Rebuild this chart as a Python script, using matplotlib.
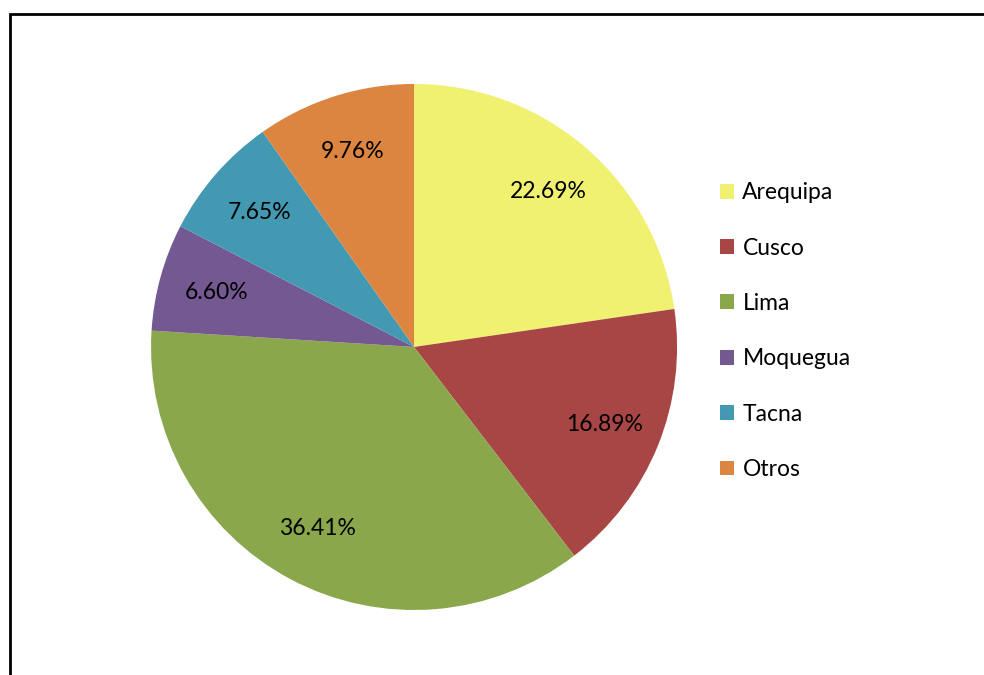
import matplotlib
matplotlib.use("Agg")
import matplotlib.pyplot as plt
from matplotlib.patches import Rectangle, Patch

# Datos de la torta
regiones = ['Arequipa', 'Cusco', 'Lima', 'Moquegua', 'Tacna', 'Otros']
porcentajes = [22.69, 16.89, 36.41, 6.60, 7.65, 9.76]
colores = ['#F0F071', '#A84545', '#8AA74C', '#745891', '#4299B1', '#DC8540']

plt.rcParams['font.family'] = ['Lato', 'DejaVu Sans']

fig = plt.figure(figsize=(9.84, 6.75), dpi=100)
fig.patch.set_facecolor('white')

# borde del grafico (cortado a la derecha y abajo)
fig.add_artist(Rectangle((10 / 984, -0.1), 1.2, 1 - 14 / 675 + 0.1,
                         transform=fig.transFigure, fill=False,
                         edgecolor='black', lw=2))

ax = fig.add_axes([0.1535, 0.0963, 0.5346, 0.7793])
wedges, texts, autotexts = ax.pie(porcentajes, colors=colores, startangle=90,
                                  counterclock=False, autopct='%.2f%%',
                                  pctdistance=0.78,
                                  textprops={'fontsize': 16.5, 'color': 'black'})
ax.set_xlim(-1, 1)
ax.set_ylim(-1, 1)
ax.set_aspect('equal')

handles = [Patch(facecolor=c, edgecolor='none') for c in colores]
fig.legend(handles, regiones, loc='upper left',
           bbox_to_anchor=(711 / 984, 1 - 173 / 675), frameon=False,
           fontsize=16.5, handlelength=0.62, handleheight=0.62,
           handletextpad=0.35, labelspacing=1.5, borderaxespad=0)

fig.savefig('out.png', dpi=100)
